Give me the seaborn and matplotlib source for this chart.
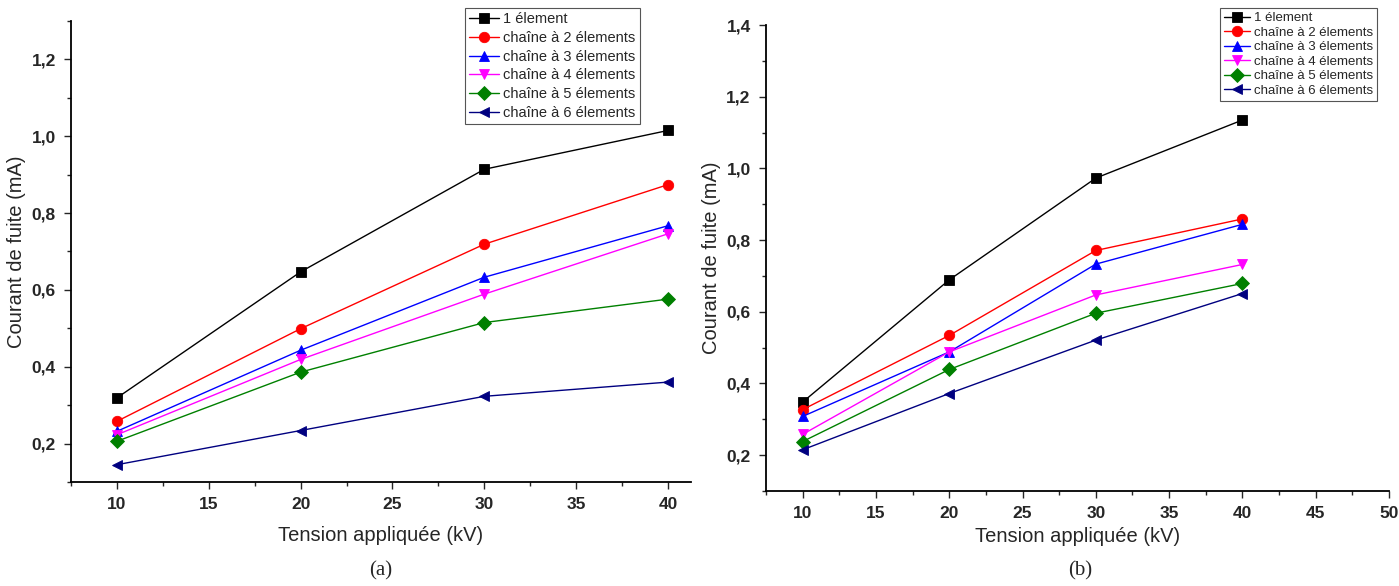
import numpy as np
import pandas as pd
import matplotlib
matplotlib.use("Agg")
import matplotlib.pyplot as plt
from matplotlib.ticker import MultipleLocator, FuncFormatter
import seaborn as sns

# Applied voltage (kV)
tension = [10, 20, 30, 40]

series_names = [
    "1 élement",
    "chaîne à 2 élements",
    "chaîne à 3 élements",
    "chaîne à 4 élements",
    "chaîne à 5 élements",
    "chaîne à 6 élements",
]

# Leakage current (mA), panel (a)
courant_a_1 = [0.319, 0.647, 0.914, 1.015]
courant_a_2 = [0.258, 0.499, 0.719, 0.874]
courant_a_3 = [0.232, 0.443, 0.633, 0.767]
courant_a_4 = [0.223, 0.419, 0.589, 0.746]
courant_a_5 = [0.206, 0.386, 0.515, 0.576]
courant_a_6 = [0.145, 0.234, 0.323, 0.360]

# Leakage current (mA), panel (b)
courant_b_1 = [0.348, 0.689, 0.973, 1.135]
courant_b_2 = [0.327, 0.534, 0.771, 0.859]
courant_b_3 = [0.308, 0.488, 0.733, 0.844]
courant_b_4 = [0.258, 0.488, 0.647, 0.732]
courant_b_5 = [0.238, 0.439, 0.596, 0.679]
courant_b_6 = [0.215, 0.372, 0.521, 0.651]

colors = ["#000000", "#ff0000", "#0000ff", "#ff00ff", "#008000", "#000080"]
markers = ["s", "o", "^", "v", "D", "<"]


def long_form(values):
    rows = []
    for name, vals in zip(series_names, values):
        for t, v in zip(tension, vals):
            rows.append({"Tension": t, "Courant": v, "Série": name})
    return pd.DataFrame(rows)


df_a = long_form([courant_a_1, courant_a_2, courant_a_3,
                  courant_a_4, courant_a_5, courant_a_6])
df_b = long_form([courant_b_1, courant_b_2, courant_b_3,
                  courant_b_4, courant_b_5, courant_b_6])

sns.set_style("ticks")
plt.rcParams["font.family"] = ["Liberation Sans", "DejaVu Sans"]
plt.rcParams["xtick.direction"] = "out"
plt.rcParams["ytick.direction"] = "out"

fig = plt.figure(figsize=(13.99, 5.86), dpi=100)
ax_a = fig.add_axes([0.0508, 0.1775, 0.4431, 0.7867])
ax_b = fig.add_axes([0.5475, 0.1621, 0.4454, 0.7952])

palette = dict(zip(series_names, colors))
marker_map = dict(zip(series_names, markers))

comma = FuncFormatter(lambda v, p: f"{v:.1f}".replace(".", ","))


def draw(ax, df, xlim, ylim, xmax_tick, legend_anchor, legend_size, spacing):
    sns.lineplot(data=df, x="Tension", y="Courant", hue="Série", style="Série",
                 palette=palette, markers=marker_map, dashes=False,
                 markersize=7.5, markeredgewidth=0.6, linewidth=1.0,
                 ax=ax, legend=True)
    for ln in ax.lines:
        ln.set_markeredgecolor(ln.get_color())
    ax.set_xlim(*xlim)
    ax.set_ylim(*ylim)
    ax.xaxis.set_major_locator(MultipleLocator(5))
    ax.xaxis.set_minor_locator(MultipleLocator(2.5))
    ax.yaxis.set_major_locator(MultipleLocator(0.2))
    ax.yaxis.set_minor_locator(MultipleLocator(0.1))
    ax.yaxis.set_major_formatter(comma)
    ax.set_xticks(np.arange(10, xmax_tick + 1, 5))
    ax.tick_params(which="major", length=5, width=1.0, labelsize=12.5, pad=6)
    ax.tick_params(which="minor", length=3, width=1.0)
    for lab in ax.get_xticklabels() + ax.get_yticklabels():
        lab.set_fontweight("bold")
    for s in ("top", "right"):
        ax.spines[s].set_visible(False)
    for s in ("left", "bottom"):
        ax.spines[s].set_linewidth(1.3)
        ax.spines[s].set_color("black")
    ax.set_xlabel("Tension appliquée (kV)", fontsize=14.5)
    ax.set_ylabel("Courant de fuite (mA)", fontsize=14.5)

    handles, labels = ax.get_legend_handles_labels()
    ax.get_legend().remove()
    leg = fig.legend(handles, labels, loc="upper left",
                     bbox_to_anchor=legend_anchor, fontsize=legend_size,
                     frameon=True, fancybox=False, framealpha=1,
                     edgecolor="#555555", labelspacing=spacing,
                     handlelength=2.0, handletextpad=0.3, borderpad=0.3,
                     borderaxespad=0)
    leg.get_frame().set_linewidth(0.8)


draw(ax_a, df_a, (7.5, 41.25), (0.1, 1.3), 40, (0.3324, 0.9863), 10.5, 0.32)
draw(ax_b, df_b, (7.5, 50.0), (0.1, 1.4), 50, (0.8720, 0.9863), 9.5, 0.17)

ax_a.xaxis.labelpad = 10
ax_b.xaxis.labelpad = 4

fig.text(381 / 1399, 1 - 571 / 586, "(a)", ha="center", va="center",
         fontsize=15, family=["Liberation Serif", "DejaVu Serif"])
fig.text(1080 / 1399, 1 - 571 / 586, "(b)", ha="center", va="center",
         fontsize=15, family=["Liberation Serif", "DejaVu Serif"])

fig.savefig("out.png", dpi=100)
